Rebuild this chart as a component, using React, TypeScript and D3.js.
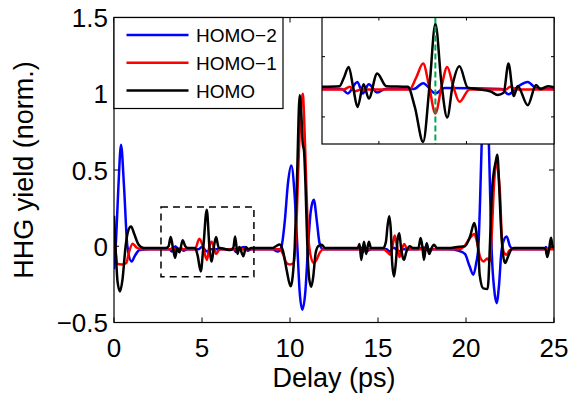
import React from 'react';
import * as d3 from 'd3';

type Pt = [number, number];

// delay (ps), yield (norm.)
const homo2Main: Pt[] = [
  [0,-0.15],[0.12,0.05],[0.25,0.39],[0.4,0.665],[0.57,0.39],[0.76,0.0],[1.0,-0.1],[1.2,-0.06],[1.45,-0.025],[2.0,-0.02],
  [3.15,-0.02],[3.3,-0.035],[3.5,0.0],[3.65,-0.035],[3.8,-0.01],[3.95,-0.03],[4.15,-0.02],[4.8,-0.02],[5.0,-0.005],[5.28,-0.035],[5.5,-0.02],
  [6.8,-0.02],[6.95,-0.04],[7.15,-0.015],[7.4,-0.005],[7.6,-0.03],[7.8,-0.02],[9.0,-0.02],[9.3,-0.035],[9.5,-0.01],
  [9.7,0.16],[9.89,0.42],[10.07,0.53],[10.26,0.34],[10.42,-0.01],[10.55,-0.3],[10.7,-0.416],[10.87,-0.3],[11.02,-0.016],
  [11.18,0.23],[11.35,0.305],[11.53,0.16],[11.68,0.02],[11.87,-0.02],[13.9,-0.02],[14.0,-0.005],[14.12,-0.04],[14.25,-0.02],
  [14.4,-0.03],[14.6,-0.02],[15.5,-0.02],[15.65,-0.035],[15.9,-0.01],[16.2,-0.035],[16.4,-0.02],[17.3,-0.02],[17.5,-0.01],
  [17.65,-0.01],[17.9,-0.035],[18.1,-0.02],[19.0,-0.02],[19.6,-0.03],[19.94,-0.05],[20.2,-0.13],[20.42,-0.187],[20.58,-0.11],
  [20.7,-0.01],[20.8,0.3],[20.89,0.67],[21.0,0.92],[21.1,0.97],[21.2,0.9],[21.3,0.67],[21.38,0.3],[21.46,-0.03],[21.6,-0.28],
  [21.74,-0.373],[21.88,-0.25],[22.0,-0.05],[22.12,0.03],[22.31,0.064],[22.5,0.0],[22.7,-0.02],[24.4,-0.02],[24.55,-0.005],
  [24.65,-0.03],[24.8,-0.01],[25,-0.02],
];

const homo1Main: Pt[] = [
  [0,0.064],[0.08,-0.02],[0.18,-0.115],[0.45,-0.12],[0.7,-0.11],[0.85,-0.04],[1.06,0.016],[1.3,-0.01],[1.6,-0.02],
  [3.2,-0.02],[3.35,-0.01],[3.5,-0.03],[3.65,-0.02],[4.6,-0.02],[4.85,0.05],[5.05,0.0],[5.28,-0.09],[5.42,0.0],[5.55,0.03],
  [5.68,-0.01],[5.8,-0.05],[6.0,-0.02],[9.4,-0.02],[9.6,-0.05],[9.8,-0.11],[10.0,-0.12],[10.2,-0.11],[10.35,0.1],[10.5,0.6],
  [10.65,0.95],[10.73,1.0],[10.8,0.85],[10.9,0.5],[11.0,0.15],[11.15,-0.05],[11.35,-0.11],[11.5,-0.09],[11.7,-0.04],[11.9,-0.02],
  [15.3,-0.02],[15.55,-0.04],[15.68,-0.055],[15.82,0.0],[15.95,0.07],[16.08,0.0],[16.22,-0.07],[16.35,-0.02],[16.5,0.015],
  [16.65,-0.02],[19.6,-0.02],[19.94,0.005],[20.2,0.05],[20.48,0.08],[20.62,0.03],[20.8,-0.07],[21.0,-0.1],[21.2,-0.08],
  [21.35,-0.1],[21.45,0.05],[21.6,0.42],[21.72,0.556],[21.82,0.5],[21.93,0.35],[22.03,0.07],[22.15,-0.04],[22.3,-0.056],
  [22.45,-0.03],[22.6,-0.02],[25,-0.02],
];

const homoMain: Pt[] = [
  [0,0.2],[0.11,-0.06],[0.2,-0.23],[0.34,-0.296],[0.48,-0.22],[0.66,0.0],[0.8,0.1],[0.97,0.13],[1.15,0.08],[1.4,0.01],[1.7,-0.012],
  [2.95,-0.012],[3.1,0.0],[3.22,0.06],[3.35,-0.01],[3.47,-0.075],[3.6,-0.01],[3.72,-0.04],[3.9,0.04],[4.05,0.0],[4.2,-0.012],
  [4.6,-0.012],[4.75,-0.06],[4.93,-0.165],[5.08,0.0],[5.27,0.24],[5.42,0.0],[5.55,-0.1],[5.68,0.0],[5.8,0.06],[5.95,-0.01],
  [6.2,-0.015],[6.6,-0.025],[6.78,-0.01],[6.88,0.064],[7.02,-0.05],[7.12,-0.005],[7.35,-0.065],[7.5,-0.005],[7.62,-0.02],
  [7.8,-0.012],[9.0,-0.012],[9.2,0.0],[9.41,0.012],[9.6,-0.03],[9.8,-0.15],[10.04,-0.263],[10.15,-0.2],[10.27,0.0],[10.4,0.45],
  [10.55,0.99],[10.65,0.85],[10.72,0.68],[10.8,0.62],[10.88,0.4],[11.0,-0.05],[11.1,-0.22],[11.21,-0.265],[11.32,-0.2],
  [11.45,-0.05],[11.6,0.0],[11.8,0.01],[12.0,-0.012],[13.85,-0.012],[13.95,0.015],[14.05,-0.09],[14.2,0.03],[14.33,-0.05],
  [14.48,0.03],[14.6,-0.012],[15.3,-0.012],[15.45,0.03],[15.55,0.14],[15.64,0.196],[15.73,0.1],[15.8,-0.1],[15.91,-0.198],
  [16.02,-0.1],[16.12,0.05],[16.21,0.086],[16.3,0.0],[16.4,-0.07],[16.48,-0.089],[16.6,-0.04],[16.8,0.0],[17.0,-0.012],
  [17.3,-0.012],[17.42,0.054],[17.52,0.0],[17.61,-0.089],[17.7,-0.02],[17.77,0.02],[17.85,-0.02],[17.91,-0.05],[18.05,-0.01],
  [18.18,0.01],[18.35,-0.012],[19.0,-0.012],[19.5,-0.005],[19.94,0.0],[20.23,0.064],[20.47,0.152],[20.58,0.1],[20.7,-0.034],
  [20.78,-0.19],[20.98,-0.276],[21.23,-0.28],[21.36,0.01],[21.46,0.33],[21.55,0.46],[21.69,0.556],[21.78,0.6],[21.89,0.38],
  [21.99,0.12],[22.1,-0.05],[22.22,-0.11],[22.38,-0.07],[22.55,-0.025],[22.7,-0.012],[24.4,-0.012],[24.52,-0.02],[24.62,-0.07],
  [24.72,-0.02],[24.83,0.055],[24.92,0.0],[25,-0.01],
];

// inset (zoom of 2.7–8 ps)
const homo2Inset: Pt[] = [
  [2.7,-0.007],[3.15,-0.007],[3.29,-0.022],[3.51,0.016],[3.63,-0.022],[3.77,0.008],[3.96,-0.019],[4.15,-0.007],[4.8,-0.007],
  [5.01,0.012],[5.29,-0.022],[5.5,-0.004],[6.8,-0.007],[6.96,-0.025],[7.17,0.0],[7.4,0.016],[7.6,-0.005],[8,-0.007],
];
const homo1Inset: Pt[] = [
  [2.7,-0.009],[3.2,-0.009],[3.33,0.0],[3.45,-0.015],[3.6,-0.009],[4.7,-0.009],[4.85,0.03],[5.01,0.077],[5.15,0.0],[5.29,-0.089],
  [5.43,0.0],[5.56,0.066],[5.7,0.0],[5.84,-0.05],[6.07,-0.009],[6.9,-0.009],[7.0,0.0],[7.15,-0.009],[8,-0.009],
];
const homoInset: Pt[] = [
  [2.7,0.0],[3.1,0.002],[3.2,0.03],[3.31,0.066],[3.41,0.0],[3.51,-0.067],[3.65,0.008],[3.77,-0.039],[3.96,0.044],[4.17,0.002],
  [4.66,0.0],[4.82,-0.067],[5.01,-0.183],[5.16,0.01],[5.29,0.209],[5.43,0.01],[5.56,-0.102],[5.69,0.01],[5.84,0.068],[6.03,-0.003],
  [6.26,-0.008],[6.56,-0.016],[6.71,-0.027],[6.85,-0.02],[6.96,0.077],[7.08,-0.031],[7.17,0.002],[7.4,-0.061],[7.59,0.006],
  [7.69,-0.008],[7.86,0.002],[8.0,-0.002],
];

const xTicks = [0, 5, 10, 15, 20, 25];
const yTicks = [-0.5, 0, 0.5, 1, 1.5];
const insetXTicks = [4, 6];
const insetYTicks = [-0.1, 0.1];
const seriesNames = ['HOMO\u22122', 'HOMO\u22121', 'HOMO'];
const seriesColors = ['#0000ff', '#ff0000', '#000000'];
const zoomBox = { t0: 2.67, t1: 7.95, v0: -0.2, v1: 0.258 };
const markerDelay = 5.29;

const fmt = (v: number) => (v < 0 ? '\u2212' + String(Math.abs(v)) : String(v));

export default function App() {
  const W = 571, H = 394;
  const L = 114, R = 554, T = 17.5, B = 322.5;
  const x = d3.scaleLinear().domain([0, 25]).range([L, R]);
  const y = d3.scaleLinear().domain([-0.5, 1.5]).range([B, T]);
  const IL = 322, IR = 554, IT = 17.5, IB = 144;
  const ix = d3.scaleLinear().domain([2.7, 8]).range([IL, IR]);
  const iy = d3.scaleLinear().domain([-0.19, 0.23]).range([IB, IT]);

  const line = d3.line<Pt>().x(d => x(d[0])).y(d => y(d[1])).curve(d3.curveMonotoneX);
  const iline = d3.line<Pt>().x(d => ix(d[0])).y(d => iy(d[1])).curve(d3.curveMonotoneX);
  const mainSeries = [homo2Main, homo1Main, homoMain];
  const insetSeries = [homo2Inset, homo1Inset, homoInset];
  const font = "'Liberation Sans', Arial, sans-serif";
  const tk = 5;

  return (
    <svg width={W} height={H} style={{ position: 'absolute', left: 0, top: 0, background: '#fff' }} fontFamily={font}>
      <defs>
        <clipPath id="mainClip"><rect x={L} y={T} width={R - L} height={B - T} /></clipPath>
        <clipPath id="insetClip"><rect x={IL} y={IT} width={IR - IL} height={IB - IT} /></clipPath>
      </defs>
      <rect x={0} y={0} width={W} height={H} fill="#fff" />
      <g clipPath="url(#mainClip)">
        {mainSeries.map((s, i) => (
          <path key={i} d={line(s) || ''} fill="none" stroke={seriesColors[i]} strokeWidth={2.5} strokeLinejoin="round" />
        ))}
      </g>
      <rect x={x(zoomBox.t0)} y={y(zoomBox.v1)} width={x(zoomBox.t1) - x(zoomBox.t0)} height={y(zoomBox.v0) - y(zoomBox.v1)}
        fill="none" stroke="#000" strokeWidth={1.5} strokeDasharray="7,5" />
      {/* frame */}
      <rect x={L} y={T} width={R - L} height={B - T} fill="none" stroke="#000" strokeWidth={1.2} />
      {xTicks.map(t => (
        <g key={'x' + t}>
          <line x1={x(t)} x2={x(t)} y1={B} y2={B - tk} stroke="#000" strokeWidth={1} />
          <line x1={x(t)} x2={x(t)} y1={T} y2={T + tk} stroke="#000" strokeWidth={1} />
          <text x={x(t)} y={357} fontSize={26} textAnchor="middle" fill="#000">{fmt(t)}</text>
        </g>
      ))}
      {yTicks.map(v => (
        <g key={'y' + v}>
          <line x1={L} x2={L + tk} y1={y(v)} y2={y(v)} stroke="#000" strokeWidth={1} />
          <line x1={R} x2={R - tk} y1={y(v)} y2={y(v)} stroke="#000" strokeWidth={1} />
          <text x={108} y={y(v) + 9.5} fontSize={26} textAnchor="end" fill="#000">{fmt(v)}</text>
        </g>
      ))}
      <text x={(L + R) / 2} y={387} fontSize={27} textAnchor="middle" fill="#000">Delay (ps)</text>
      <text transform={`translate(33,${(T + B) / 2}) rotate(-90)`} fontSize={27} textAnchor="middle" fill="#000">HHG yield (norm.)</text>

      {/* legend */}
      <rect x={L} y={T} width={283 - L} height={108.5 - T} fill="#fff" stroke="#000" strokeWidth={1.2} />
      {seriesNames.map((n, i) => {
        const ly = 35 + i * 27.8;
        return (
          <g key={n}>
            <line x1={126.5} x2={188.5} y1={ly} y2={ly} stroke={seriesColors[i]} strokeWidth={2.5} />
            <text x={196} y={ly + 7} fontSize={19} fill="#000">{n}</text>
          </g>
        );
      })}

      {/* inset */}
      <rect x={IL} y={IT} width={IR - IL} height={IB - IT} fill="#fff" />
      <g clipPath="url(#insetClip)">
        {insetSeries.map((s, i) => (
          <path key={i} d={iline(s) || ''} fill="none" stroke={seriesColors[i]} strokeWidth={2.5} strokeLinejoin="round" />
        ))}
        <line x1={ix(markerDelay)} x2={ix(markerDelay)} y1={IT} y2={IB} stroke="#00a651" strokeWidth={2} strokeDasharray="6,3" />
      </g>
      <rect x={IL} y={IT} width={IR - IL} height={IB - IT} fill="none" stroke="#000" strokeWidth={1.2} />
      {insetXTicks.map(t => (
        <g key={'ix' + t}>
          <line x1={ix(t)} x2={ix(t)} y1={IB} y2={IB - 3} stroke="#000" strokeWidth={1} />
          <line x1={ix(t)} x2={ix(t)} y1={IT} y2={IT + 3} stroke="#000" strokeWidth={1} />
        </g>
      ))}
      {insetYTicks.map(v => (
        <g key={'iy' + v}>
          <line x1={IL} x2={IL + 3} y1={iy(v)} y2={iy(v)} stroke="#000" strokeWidth={1} />
          <line x1={IR} x2={IR - 3} y1={iy(v)} y2={iy(v)} stroke="#000" strokeWidth={1} />
        </g>
      ))}
    </svg>
  );
}
